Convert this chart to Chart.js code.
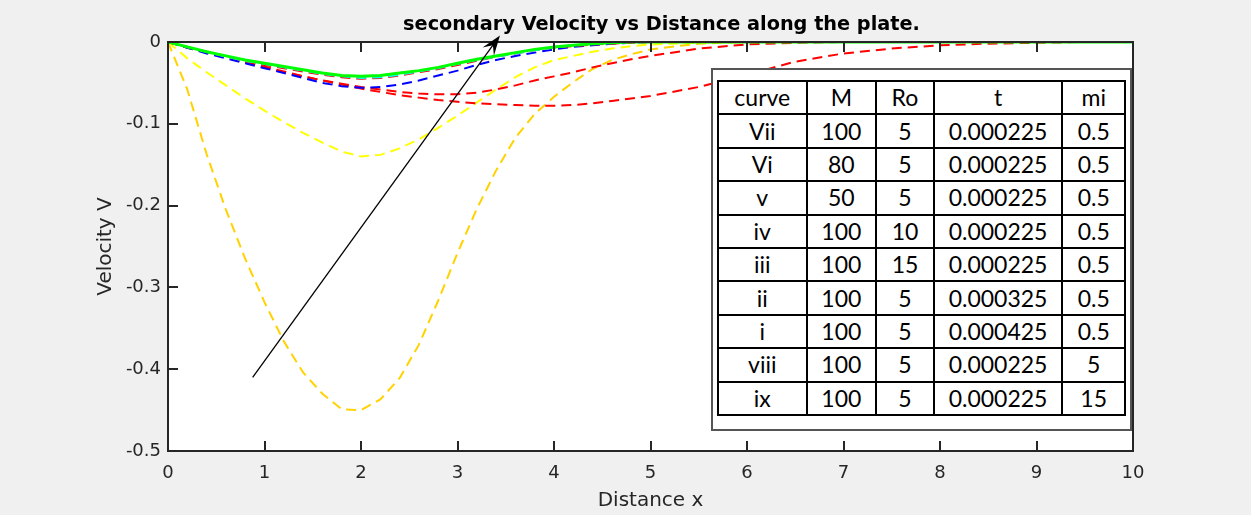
<!DOCTYPE html>
<html>
<head>
<meta charset="utf-8">
<script src="https://cdn.jsdelivr.net/npm/chart.js@4.4.0/dist/chart.umd.min.js"></script>
<style>
    body { margin: 0; background: #f0f0f0; }
    #wrap { position: relative; width: 1251px; height: 515px; }
    #legendBox { position: absolute; left: 711px; top: 68px; width: 417px; height: 359px; border: 2px solid #555; background: #fff; }
    #paramTable { position: absolute; left: 4px; top: 10px; width: 409px; height: 336px; border-collapse: collapse;
        font-family: Lato, 'Open Sans', sans-serif; font-size: 23px; color: #000; text-align: center; }
    #paramTable td { border: 2px solid #000; padding: 0; line-height: 1; }
</style>
</head>
<body>
<div id="wrap">
    <canvas id="myChart" width="1251" height="515"></canvas>
    <div id="legendBox">
        <table id="paramTable">
            <colgroup><col style="width:89px"><col style="width:70px"><col style="width:58px"><col style="width:129px"><col style="width:63px"></colgroup>
            <tbody id="table-body"></tbody>
        </table>
    </div>
</div>
<script>
// ═══════════════════════════════════════
//  DATA
// ═══════════════════════════════════════

const xs = [0, 0.2, 0.4, 0.6, 0.8, 1, 1.2, 1.4, 1.6, 1.8, 2, 2.2, 2.4, 2.6, 2.8, 3, 3.2, 3.4, 3.6, 3.8, 4, 4.2, 4.4, 4.6, 4.8, 5,
    5.5, 6, 6.5, 7, 7.5, 8, 8.5, 9, 9.5, 10];

const vGreen = [0, -0.006, -0.012, -0.017, -0.022, -0.026, -0.030, -0.034, -0.038, -0.041, -0.042, -0.041, -0.038, -0.035, -0.031, -0.026, -0.021, -0.017, -0.013, -0.009, -0.006, -0.004, -0.002, -0.001, 0, 0,
    0, 0, 0, 0, 0, 0, 0, 0, 0, 0];
const vCyan = [0, -0.006, -0.012, -0.018, -0.023, -0.027, -0.031, -0.035, -0.039, -0.042, -0.044, -0.043, -0.040, -0.036, -0.032, -0.027, -0.022, -0.018, -0.014, -0.010, -0.007, -0.004, -0.002, -0.001, 0, 0,
    0, 0, 0, 0, 0, 0, 0, 0, 0, 0];
const vRedTop = [0, -0.006, -0.012, -0.018, -0.023, -0.028, -0.032, -0.036, -0.040, -0.043, -0.045, -0.044, -0.041, -0.037, -0.033, -0.028, -0.023, -0.018, -0.014, -0.010, -0.007, -0.005, -0.003, -0.002, -0.001, 0,
    0, 0, 0, 0, 0, 0, 0, 0, 0, 0];
const vBlue = [0, -0.007, -0.014, -0.020, -0.026, -0.032, -0.038, -0.044, -0.050, -0.054, -0.056, -0.055, -0.052, -0.047, -0.041, -0.035, -0.028, -0.022, -0.017, -0.013, -0.009, -0.006, -0.004, -0.002, -0.001, 0,
    0, 0, 0, 0, 0, 0, 0, 0, 0, 0];
const vRedMid = [0, -0.006, -0.012, -0.018, -0.024, -0.030, -0.036, -0.042, -0.047, -0.051, -0.055, -0.058, -0.061, -0.063, -0.064, -0.064, -0.062, -0.058, -0.053, -0.047, -0.042, -0.037, -0.031, -0.026, -0.021, -0.017,
    -0.008, -0.003, -0.001, 0, 0, 0, 0, 0, 0, 0];
const vRedLow = [0, -0.007, -0.013, -0.019, -0.025, -0.031, -0.037, -0.042, -0.047, -0.052, -0.057, -0.061, -0.065, -0.068, -0.071, -0.073, -0.075, -0.076, -0.077, -0.078, -0.078, -0.077, -0.075, -0.072, -0.069, -0.066,
    -0.055, -0.040, -0.024, -0.014, -0.008, -0.004, -0.002, -0.001, 0, 0];
const vYellow = [0, -0.020, -0.037, -0.053, -0.069, -0.084, -0.098, -0.111, -0.123, -0.134, -0.140, -0.138, -0.130, -0.119, -0.105, -0.090, -0.074, -0.058, -0.043, -0.031, -0.022, -0.017, -0.012, -0.008, -0.005, -0.003,
    -0.001, 0, 0, 0, 0, 0, 0, 0, 0, 0];
const vGold = [0, -0.058, -0.137, -0.205, -0.265, -0.318, -0.366, -0.404, -0.430, -0.449, -0.450, -0.437, -0.411, -0.370, -0.316, -0.258, -0.204, -0.157, -0.117, -0.088, -0.067, -0.049, -0.033, -0.022, -0.015, -0.009,
    -0.002, 0, 0, 0, 0, 0, 0, 0, 0, 0];

// arrow annotation, in data units
const arrowFrom = [0.877, -0.410];
const arrowTo = [3.44, 0.008];

// parameter table
const tableHead = ['curve', 'M', 'Ro', 't', 'mi'];
const curveNames = ['Vii', 'Vi', 'v', 'iv', 'iii', 'ii', 'i', 'viii', 'ix'];
const mValues = ['100', '80', '50', '100', '100', '100', '100', '100', '100'];
const roValues = ['5', '5', '5', '10', '15', '5', '5', '5', '5'];
const tValues = ['0.000225', '0.000225', '0.000225', '0.000225', '0.000225', '0.000325', '0.000425', '0.000225', '0.000225'];
const miValues = ['0.5', '0.5', '0.5', '0.5', '0.5', '0.5', '0.5', '5', '15'];

const titleText = 'secondary Velocity vs Distance along the plate.';

// ═══════════════════════════════════════
//  TABLE
// ═══════════════════════════════════════

function fillTable() {
    const tbody = document.getElementById('table-body');
    const rows = [tableHead];
    curveNames.forEach((c, i) => rows.push([c, mValues[i], roValues[i], tValues[i], miValues[i]]));
    rows.forEach(r => {
        const tr = document.createElement('tr');
        tr.innerHTML = r.map(v => `<td>${v}</td>`).join('');
        tbody.appendChild(tr);
    });
}
fillTable();

// ═══════════════════════════════════════
//  CHART
// ═══════════════════════════════════════

const pts = vals => xs.map((x, i) => ({ x, y: vals[i] }));

function line(data, color, dashed, width) {
    return {
        data: pts(data), borderColor: color, borderWidth: width,
        borderDash: dashed ? [10, 6] : [], pointRadius: 0, tension: 0, fill: false
    };
}

const matlabAxes = {
    id: 'matlabAxes',
    beforeDraw(chart) {
        const { ctx, chartArea: a } = chart;
        ctx.save();
        ctx.fillStyle = '#f0f0f0';
        ctx.fillRect(0, 0, chart.width, chart.height);
        ctx.fillStyle = '#ffffff';
        ctx.fillRect(a.left, a.top, a.right - a.left, a.bottom - a.top);
        ctx.restore();
    },
    afterDatasetsDraw(chart) {
        const { ctx, chartArea: a, scales: { x, y } } = chart;
        ctx.save();
        ctx.strokeStyle = '#262626';
        ctx.lineWidth = 2;
        ctx.strokeRect(a.left, a.top, a.right - a.left, a.bottom - a.top);
        ctx.beginPath();
        x.ticks.forEach(t => {
            const px = Math.round(x.getPixelForValue(t.value));
            ctx.moveTo(px, a.bottom); ctx.lineTo(px, a.bottom - 10);
            ctx.moveTo(px, a.top); ctx.lineTo(px, a.top + 10);
        });
        y.ticks.forEach(t => {
            const py = Math.round(y.getPixelForValue(t.value));
            ctx.moveTo(a.left, py); ctx.lineTo(a.left + 10, py);
            ctx.moveTo(a.right, py); ctx.lineTo(a.right - 10, py);
        });
        ctx.stroke();

        // arrow
        const x0 = x.getPixelForValue(arrowFrom[0]), y0 = y.getPixelForValue(arrowFrom[1]);
        const x1 = x.getPixelForValue(arrowTo[0]), y1 = y.getPixelForValue(arrowTo[1]);
        const ang = Math.atan2(y1 - y0, x1 - x0);
        const L = 20, W = 7;
        const bx = x1 - L * Math.cos(ang), by = y1 - L * Math.sin(ang);
        const nx = x1 - L * 0.6 * Math.cos(ang), ny = y1 - L * 0.6 * Math.sin(ang);
        ctx.strokeStyle = '#000';
        ctx.lineWidth = 1.3;
        ctx.beginPath();
        ctx.moveTo(x0, y0); ctx.lineTo(nx, ny);
        ctx.stroke();
        ctx.fillStyle = '#000';
        ctx.beginPath();
        ctx.moveTo(x1, y1);
        ctx.lineTo(bx + W * Math.sin(ang), by - W * Math.cos(ang));
        ctx.lineTo(nx, ny);
        ctx.lineTo(bx - W * Math.sin(ang), by + W * Math.cos(ang));
        ctx.closePath();
        ctx.fill();
        ctx.restore();
    },
    afterDraw(chart) {
        const { ctx, chartArea: a } = chart;
        ctx.save();
        ctx.fillStyle = '#000';
        ctx.font = 'bold 19.3px "DejaVu Sans"';
        ctx.textAlign = 'center';
        ctx.textBaseline = 'alphabetic';
        ctx.fillText(titleText, (a.left + a.right) / 2 + 11, 30);
        ctx.restore();
    }
};

Chart.defaults.font.family = '"DejaVu Sans", sans-serif';
Chart.defaults.color = '#262626';

new Chart(document.getElementById('myChart').getContext('2d'), {
    type: 'line',
    data: {
        datasets: [
            line(vGreen, '#00ff00', false, 3),
            line(vCyan, '#00ffff', true, 2),
            line(vRedTop, '#ff0000', true, 2),
            line(vBlue, '#0000ff', true, 2),
            line(vRedMid, '#ff0000', true, 2),
            line(vRedLow, '#ff0000', true, 2),
            line(vYellow, '#ffff00', true, 2),
            line(vGold, '#ffd200', true, 2)
        ]
    },
    options: {
        responsive: false,
        animation: false,
        devicePixelRatio: 1,
        layout: { padding: { left: 0, right: 118, top: 42, bottom: 0 } },
        plugins: { legend: { display: false }, tooltip: { enabled: false }, title: { display: false } },
        scales: {
            x: {
                type: 'linear', min: 0, max: 10,
                ticks: { stepSize: 1, padding: 12, maxRotation: 0, font: { size: 18 }, color: '#262626' },
                grid: { display: false, drawTicks: false }, border: { display: false },
                title: { display: true, text: 'Distance x', font: { size: 20 }, color: '#262626', padding: { top: 0, bottom: 2 } },
                afterFit: s => { s.height = 64; }
            },
            y: {
                type: 'linear', min: -0.5, max: 0,
                ticks: { stepSize: 0.1, padding: 7, font: { size: 18 }, color: '#262626',
                    callback: v => String(Math.round(v * 10) / 10) },
                grid: { display: false, drawTicks: false }, border: { display: false },
                title: { display: true, text: 'Velocity V', font: { size: 20 }, color: '#262626', padding: { top: 94, bottom: 0 } },
                afterFit: s => { s.width = 168; }
            }
        }
    },
    plugins: [matlabAxes]
});
</script>
</body>
</html>
